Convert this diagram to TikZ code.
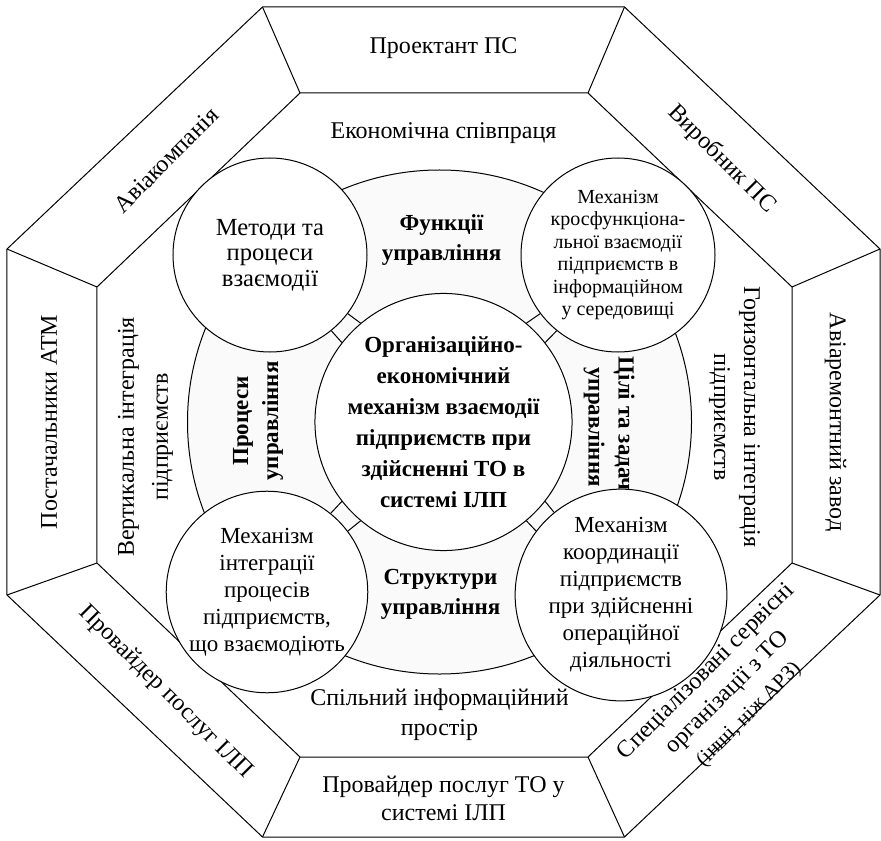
\documentclass[tikz,border=0pt]{standalone}
\usepackage{fontspec}
\setmainfont{Liberation Serif}
\usetikzlibrary{positioning,calc}
\definecolor{ringgray}{RGB}{250,250,250}

\begin{document}
\begin{tikzpicture}[
  x=0.5pt, y=0.5pt, line width=0.5pt,
  partner/.style={align=center, inner sep=0pt, font=\fontsize{12}{14}\selectfont},
  ringtext/.style={align=center, inner sep=0pt, font=\fontsize{12}{15}\selectfont},
  part/.style={align=center, inner sep=0pt, font=\fontsize{11.5}{15}\selectfont\bfseries},
  mech/.style={circle, draw, fill=white, minimum size=97pt, inner sep=0pt,
               align=center, font=\fontsize{11.5}{13.5}\selectfont},
  core/.style={circle, draw, fill=white, minimum size=120pt, inner sep=0pt,
               align=center, font=\fontsize{11.5}{15.5}\selectfont\bfseries}
]
\useasboundingbox (-443.5,422) rectangle (437.5,-418);

% outer and inner octagons
\foreach \k/\x/\y in {1/-181/415, 2/181/415, 3/436.5/173, 4/436.5/-173,
                      5/181/-415, 6/-181/-415, 7/-436.5/-173, 8/-436.5/173}
  \coordinate (o\k) at (\x,\y);
\foreach \k/\x/\y in {1/-143.5/329, 2/144.5/329, 3/348.5/135, 4/348.5/-141,
                      5/144.5/-335, 6/-143.5/-335, 7/-346.5/-141, 8/-346.5/135}
  \coordinate (i\k) at (\x,\y);
\draw (o1) -- (o2) -- (o3) -- (o4) -- (o5) -- (o6) -- (o7) -- (o8) -- cycle;
\draw (i1) -- (i2) -- (i3) -- (i4) -- (i5) -- (i6) -- (i7) -- (i8) -- cycle;
\foreach \k in {1,...,8}
  \draw (o\k) -- (i\k);

% partners
\node[partner, rotate=45] (airline) at (-277.5,262) {Авіакомпанія};
\node[partner] (designer) at (0,374) {Проектант ПС};
\node[partner, rotate=-45] (maker) at (278,263) {Виробник ПС};
\node[partner, rotate=-90] (repair) at (392,0) {Авіаремонтний завод};
\node[partner, rotate=45, font=\fontsize{12}{15}\selectfont] (service) at (284,-271)
  {Спеціалізовані сервісні\\ організації з ТО\\ {\fontsize{10.5}{12}\selectfont(інші, ніж АРЗ)}};
\node[partner] (mro) at (0,-376) {Провайдер послуг ТО у\\ системі ІЛП};
\node[partner, rotate=-45] (ilsp) at (-278,-270) {Провайдер послуг ІЛП};
\node[partner, rotate=90] (atm) at (-394.5,0) {Постачальники АТМ};

% integration ring
\node[ringtext] (econ) at (0,289) {Економічна співпраця};
\node[ringtext, rotate=-90] (horiz) at (291,5) {Горизонтальна інтеграція\\ підприємств};
\node[ringtext, rotate=90, font=\fontsize{12}{17}\selectfont] (vert) at (-298,-15)
  {Вертикальна інтеграція\\ підприємств};
\node[ringtext] (info) at (-4,-293) {Спільний інформаційний\\ простір};

% management ring
\node[circle, draw, fill=ringgray, minimum size=252pt, inner sep=0pt] (ring) at (-4,0) {};
\node[part] (func) at (-2,182) {Функції\\ управління};
\node[part, rotate=90] (proc) at (-185.5,1) {Процеси\\ управління};
\node[part, rotate=-90] (goals) at (165.5,-5) {Цілі та задачі\\ управління};
\node[part] (struct) at (-3,-172) {Структури\\ управління};

% mechanisms
\node[core] (core) at (0,0)
  {Організаційно-\\ економічний\\ механізм взаємодії\\ підприємств при\\ здійсненні ТО в\\ системі ІЛП};
\node[mech, font=\fontsize{12.3}{12.8}\selectfont] (mtl) at (-173.5,167)
  {Методи та\\ процеси\\ взаємодії};
\node[mech, font=\fontsize{10}{11.2}\selectfont] (mtr) at (174.5,167)
  {Механізм\\ кросфункціона-\\ льної взаємодії\\ підприємств в\\ інформаційном\\ у середовищі};
\node[mech] (mbl) at (-176.5,-170)
  {Механізм\\ інтеграції\\ процесів\\ підприємств,\\ що взаємодіють};
\node[mech] (mbr) at (177.5,-173)
  {Механізм\\ координації\\ підприємств\\ при здійсненні\\ операційної\\ діяльності};

% links
\foreach \m/\a in {mtl/136, mtr/44, mbl/224, mbr/316}{
  \pgfmathtruncatemacro{\pa}{\a+6}\pgfmathtruncatemacro{\pb}{\a-6}
  \pgfmathtruncatemacro{\qa}{\a+173}\pgfmathtruncatemacro{\qb}{\a+187}
  \draw (core.\pa) -- (\m.\qa) (core.\pb) -- (\m.\qb);
}
\end{tikzpicture}
\end{document}
